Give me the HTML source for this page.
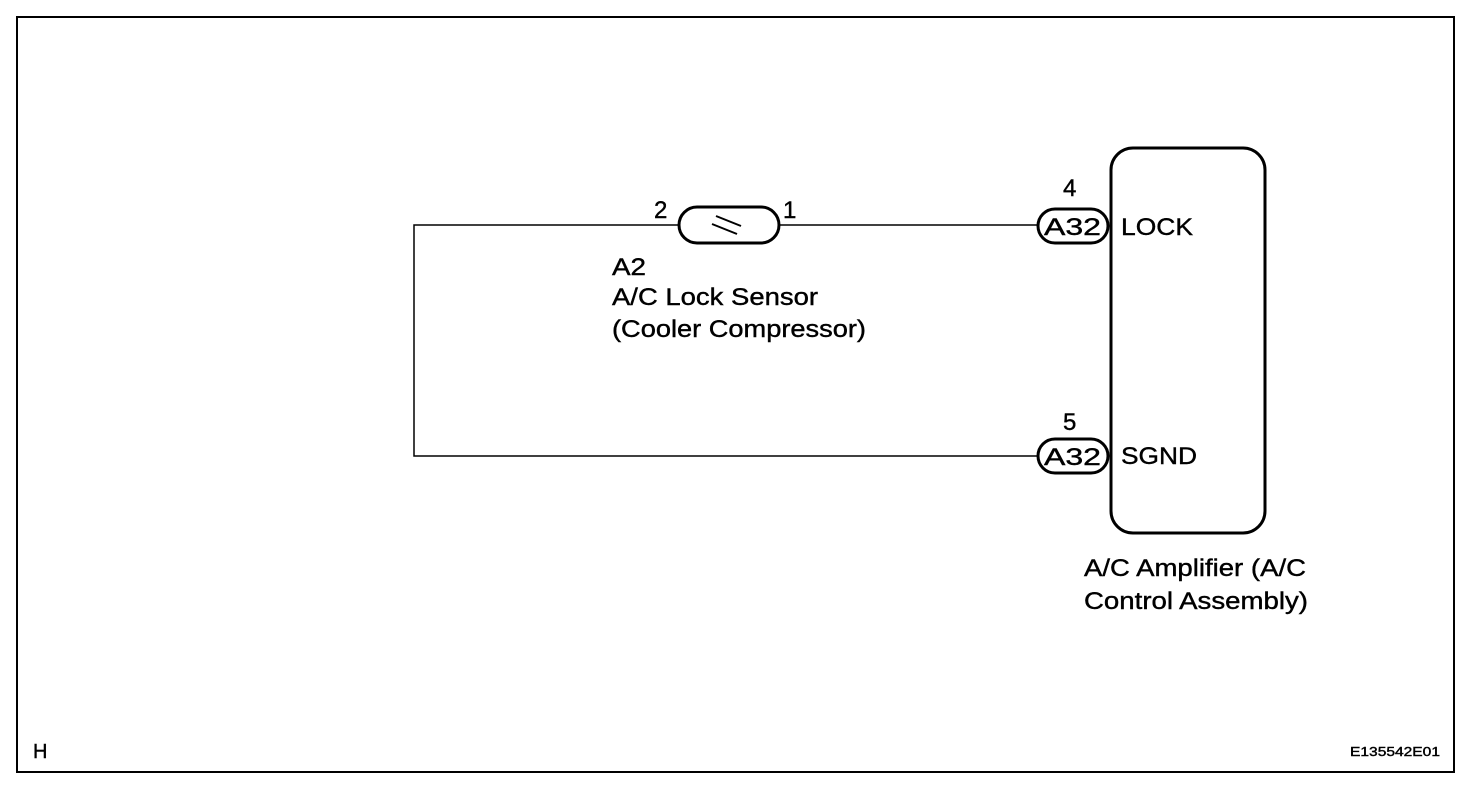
<!DOCTYPE html>
<html><head><style>
body{margin:0;background:#fff;}
svg text{font-family:"Liberation Sans",Arial,sans-serif;fill:#000;stroke:#000;stroke-width:0.4;}
</style></head><body>
<svg width="1472" height="792" xmlns="http://www.w3.org/2000/svg">
<rect x="17" y="17" width="1437" height="755" fill="none" stroke="#000" stroke-width="2"/>
<g stroke="#000" fill="none">
<polyline points="679,225 414,225 414,456 1038,456" stroke-width="1.5"/>
<line x1="778" y1="225" x2="1038" y2="225" stroke-width="1.5"/>
<rect x="679" y="207" width="100" height="36" rx="18" stroke-width="3" fill="#fff"/>
<line x1="716" y1="216" x2="741" y2="226" stroke-width="2"/>
<line x1="712" y1="224" x2="737" y2="234" stroke-width="2"/>
<rect x="1111" y="148" width="154" height="385" rx="22" stroke-width="3"/>
<rect x="1038" y="209" width="70" height="34" rx="17" stroke-width="3" fill="#fff"/>
<rect x="1038" y="439" width="70" height="34" rx="17" stroke-width="3" fill="#fff"/>
</g>
<g font-size="24">
<text x="654" y="218">2</text>
<text x="783" y="218">1</text>
<text x="612" y="275" textLength="34" lengthAdjust="spacingAndGlyphs">A2</text>
<text x="612" y="305" textLength="206" lengthAdjust="spacingAndGlyphs">A/C Lock Sensor</text>
<text x="612" y="337" textLength="254" lengthAdjust="spacingAndGlyphs">(Cooler Compressor)</text>
<text x="1063" y="196">4</text>
<text x="1044" y="235" textLength="57" lengthAdjust="spacingAndGlyphs">A32</text>
<text x="1121" y="235" textLength="72" lengthAdjust="spacingAndGlyphs">LOCK</text>
<text x="1063" y="430">5</text>
<text x="1044" y="465" textLength="57" lengthAdjust="spacingAndGlyphs">A32</text>
<text x="1121" y="464" textLength="76" lengthAdjust="spacingAndGlyphs">SGND</text>
<text x="1084" y="576" textLength="222" lengthAdjust="spacingAndGlyphs">A/C Amplifier (A/C</text>
<text x="1084" y="609" textLength="224" lengthAdjust="spacingAndGlyphs">Control Assembly)</text>
<text x="33" y="758" font-size="20">H</text>
<text x="1350" y="756" font-size="13" textLength="90" lengthAdjust="spacingAndGlyphs">E135542E01</text>
</g>
</svg>
</body></html>
